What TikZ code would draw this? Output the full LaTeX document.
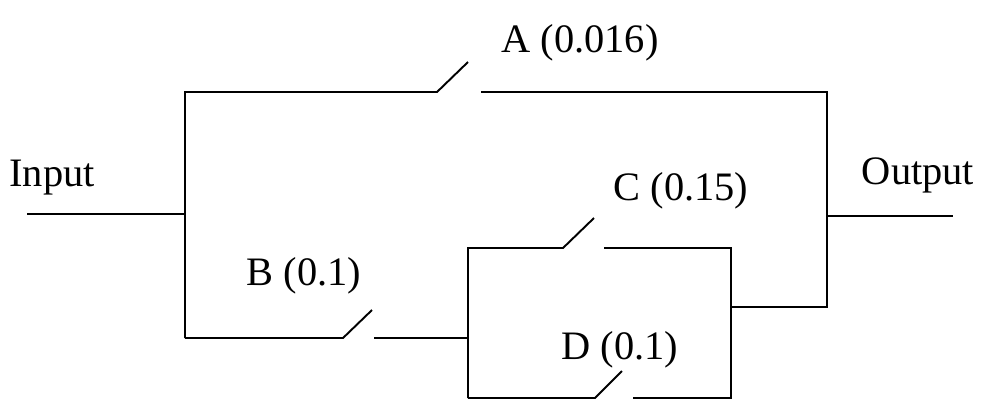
\documentclass[tikz,border=0pt]{standalone}
\usepackage{fontspec}
\setmainfont{Liberation Serif}
\usetikzlibrary{positioning}
\tikzset{wire/.style={line width=1.1pt}}
\tikzset{lbl/.style={font=\fontsize{23}{27}\selectfont, inner sep=0pt}}

\begin{document}
\begin{tikzpicture}[x=0.02cm, y=-0.02cm]
      \useasboundingbox (0,0) rectangle (1001,414);
      % terminals
      \coordinate (in) at (27,214);
      \coordinate (ljoin) at (185,214);
      \coordinate (out) at (953,216);
      \coordinate (rjoin) at (827,216);
      % top branch, switch A
      \coordinate (tl) at (185,92);
      \coordinate (a1) at (437,92);
      \coordinate (a2) at (468,62);
      \coordinate (a3) at (481,92);
      \coordinate (tr) at (827,92);
      % bottom branch, switch B
      \coordinate (bl) at (185,338);
      \coordinate (b1) at (343,338);
      \coordinate (b2) at (372,310);
      \coordinate (b3) at (374,338);
      \coordinate (b4) at (468,338);
      % inner loop, switches C and D
      \coordinate (ctl) at (468,248);
      \coordinate (c1) at (563,248);
      \coordinate (c2) at (594,218);
      \coordinate (c3) at (604,248);
      \coordinate (ctr) at (731,248);
      \coordinate (dbl) at (468,398);
      \coordinate (d1) at (595,398);
      \coordinate (d2) at (622,371);
      \coordinate (d3) at (633,398);
      \coordinate (dbr) at (731,398);
      \coordinate (mr) at (731,307);
      \coordinate (br) at (827,307);
      \draw[wire] (in) -- (ljoin);
      \draw[wire] (rjoin) -- (out);
      \draw[wire] (bl) -- (tl) -- (a1) -- (a2);
      \draw[wire] (a3) -- (tr) -- (br) -- (mr);
      \draw[wire] (bl) -- (b1) -- (b2);
      \draw[wire] (b3) -- (b4);
      \draw[wire] (dbl) -- (ctl) -- (c1) -- (c2);
      \draw[wire] (c3) -- (ctr) -- (dbr) -- (d3);
      \draw[wire] (dbl) -- (d1) -- (d2);
      \node[lbl] (input) at (52,178) {Input};
      \node[lbl] (output) at (918,175) {Output};
      \node[lbl] (la) at (580,43) {A (0.016)};
      \node[lbl] (lb) at (304,276) {B (0.1)};
      \node[lbl] (lc) at (681,191) {C (0.15)};
      \node[lbl] (ld) at (620,350) {D (0.1)};
\end{tikzpicture}
\end{document}
